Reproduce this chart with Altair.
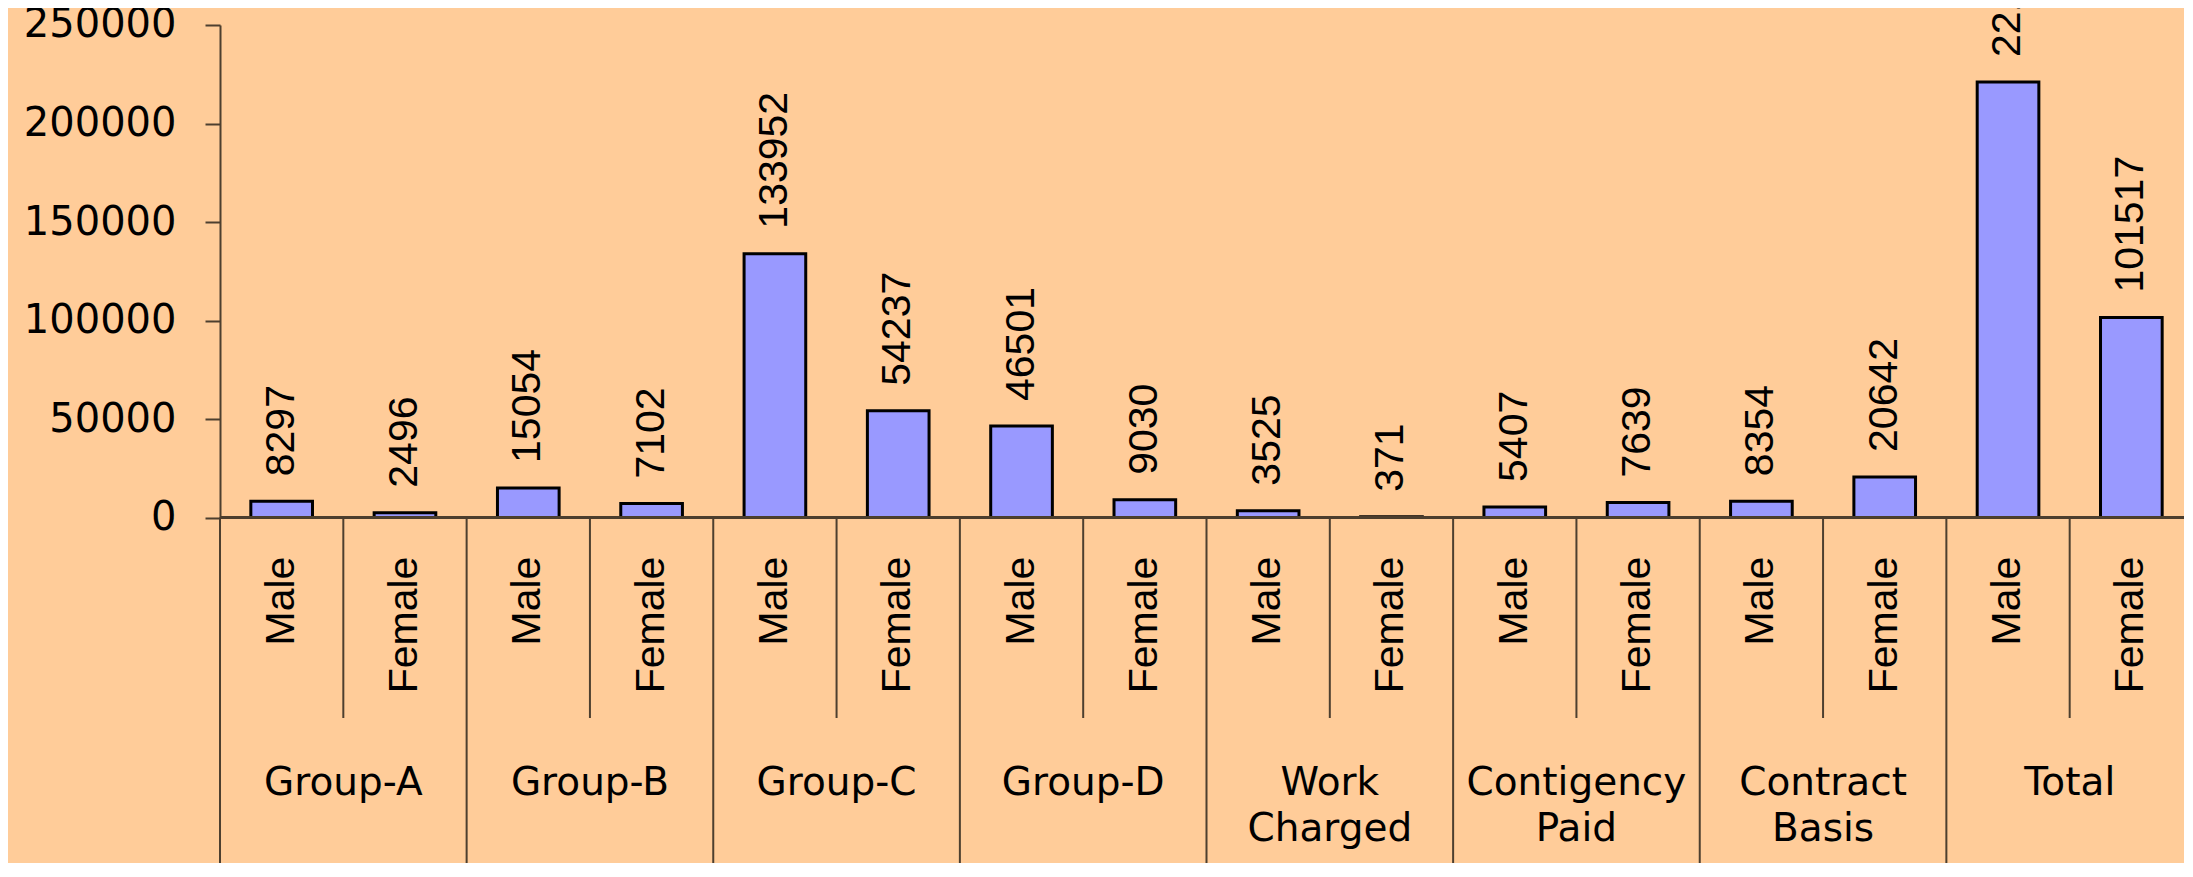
import altair as alt
import pandas as pd

# ---- data ----
groups = ["Group-A", "Group-B", "Group-C", "Group-D",
          "Work\nCharged", "Contigency\nPaid", "Contract\nBasis", "Total"]
sexes = ["Male", "Female"]
male = [8297, 15054, 133952, 46501, 3525, 5407, 8354, 221090]
female = [2496, 7102, 54237, 9030, 371, 7639, 20642, 101517]
y_ticks = [0, 50000, 100000, 150000, 200000, 250000]

rows = []
for i, g in enumerate(groups):
    for s, v in zip(sexes, (male[i], female[i])):
        rows.append({"slot": f"{i}-{s}", "group": g, "sex": s, "value": v})
df = pd.DataFrame(rows)
order = list(df["slot"])

# ---- layout constants ----
PLOT_W = 1964
RANGE_W = 1973
PLOT_H = 492.6
LC = "#4d3f2f"

xs = alt.Scale(domain=order, range=[0, RANGE_W], paddingInner=0, paddingOuter=0)
ys = alt.Scale(domain=[0, 250000], nice=False)

base = alt.Chart(df)
x_c = alt.X("slot:N", scale=xs, axis=None)
x_b = alt.X("slot:N", scale=xs, axis=None, bandPosition=0)

long_rules = base.transform_filter(alt.datum.sex == "Male").mark_rule(
    color=LC, strokeWidth=2
).encode(x=x_b, y=alt.value(PLOT_H), y2=alt.value(850))

short_rules = base.transform_filter(alt.datum.sex == "Female").mark_rule(
    color=LC, strokeWidth=2
).encode(x=x_b, y=alt.value(PLOT_H), y2=alt.value(693))

bars = base.mark_bar(
    width={"band": 0.5}, fill="#9999FF", stroke="black", strokeWidth=3
).encode(
    x=x_c,
    y=alt.Y("value:Q", scale=ys,
            axis=alt.Axis(values=y_ticks, format="d", title=None, grid=False)),
)

zero_line = alt.Chart(df).mark_rule(color=LC, strokeWidth=2).encode(
    y=alt.datum(0)
)

value_labels = base.mark_text(
    angle=270, align="left", baseline="middle", dx=25,
    font="Liberation Sans", fontSize=41, color="black"
).encode(x=x_c, y=alt.Y("value:Q", scale=ys, title=None),
         text=alt.Text("value:Q", format="d"))

sex_labels = base.mark_text(
    angle=270, align="right", baseline="middle",
    font="Liberation Sans", fontSize=41, color="black"
).encode(x=x_c, y=alt.value(531.6), text="sex:N")

group_labels = base.transform_filter(alt.datum.sex == "Female").mark_text(
    align="center", baseline="alphabetic", lineBreak="\n", lineHeight=46,
    font="DejaVu Sans", fontSize=39, color="black"
).encode(x=x_b, y=alt.value(770), text="group:N")

chart = alt.layer(
    long_rules, short_rules, bars, zero_line, value_labels, sex_labels, group_labels
).properties(
    width=PLOT_W,
    height=PLOT_H,
    autosize=alt.AutoSizeParams(type="none"),
    padding={"left": 212, "top": 17, "right": 0, "bottom": 345},
    background="#FFCC99",
).configure_view(
    stroke=None
).configure_axisY(
    domainColor=LC, domainWidth=2, tickColor=LC, tickWidth=2, tickSize=15,
    labelFont="DejaVu Sans", labelFontSize=40, labelColor="black",
    labelPadding=29,
)

chart.save("out.html", embed_options={"renderer": "svg", "actions": False})
